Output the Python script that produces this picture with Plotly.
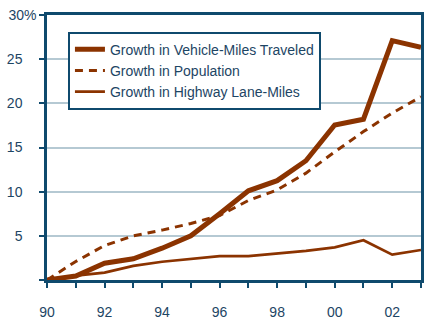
import plotly.graph_objects as go

# Cumulative growth since 1990, percent
years = list(range(1990, 2004))
vmt_growth = [0, 0.45, 1.9, 2.4, 3.6, 5.0, 7.5, 10.1, 11.25, 13.5, 17.55, 18.2, 27.1, 26.35]
population_growth = [0, 2.1, 3.9, 5.0, 5.65, 6.4, 7.3, 9.0, 10.2, 12.1, 14.5, 16.8, 18.9, 20.75]
lane_miles_growth = [0, 0.5, 0.83, 1.6, 2.07, 2.38, 2.7, 2.7, 3.0, 3.3, 3.7, 4.5, 2.87, 3.4]

x_ticktext = ["90", "", "92", "", "94", "", "96", "", "98", "", "00", "", "02", ""]
y_tickvals = [0, 5, 10, 15, 20, 25, 30]
y_ticktext = ["", "5\u2003", "10\u2003", "15\u2003", "20\u2003", "25\u2003", "30%"]

BROWN = "#8B3300"
NAVY = "#0F4A6D"
GRID = "#B5C9D3"
TEXT = "#1D4564"
FONT = "Liberation Sans, Arial, sans-serif"

fig = go.Figure()
fig.add_trace(go.Scatter(
    x=years, y=vmt_growth, mode="lines", name="Growth in Vehicle-Miles Traveled",
    line=dict(color=BROWN, width=5), cliponaxis=False,
))
fig.add_trace(go.Scatter(
    x=years, y=population_growth, mode="lines", name="Growth in Population",
    line=dict(color=BROWN, width=3, dash="8px,6px"), cliponaxis=False,
))
fig.add_trace(go.Scatter(
    x=years, y=lane_miles_growth, mode="lines", name="Growth in Highway Lane-Miles",
    line=dict(color=BROWN, width=2.7), cliponaxis=False,
))

fig.update_layout(
    width=440, height=322,
    margin=dict(l=47, r=19, t=15, b=42),
    paper_bgcolor="white", plot_bgcolor="white",
    font=dict(family=FONT, size=14, color=TEXT),
    legend=dict(
        x=0.056, y=0.937, xanchor="left", yanchor="top",
        bgcolor="white", bordercolor=NAVY, borderwidth=2,
        font=dict(family=FONT, size=14, color=TEXT),
        traceorder="normal",
    ),
    showlegend=True,
)
fig.update_xaxes(
    range=[1990, 2003], tickvals=years, ticktext=x_ticktext,
    showgrid=False, zeroline=False, automargin=False,
    showline=True, mirror=True, linecolor=NAVY, linewidth=2.5,
    ticks="outside", ticklen=5, tickwidth=2, tickcolor=NAVY,
    ticklabelstandoff=12,
)
fig.update_yaxes(
    range=[0, 30], tickvals=y_tickvals, ticktext=y_ticktext,
    showgrid=True, gridcolor=GRID, gridwidth=2, zeroline=False, automargin=False,
    showline=True, mirror=True, linecolor=NAVY, linewidth=2.5,
    ticks="outside", ticklen=5, tickwidth=2, tickcolor=NAVY,
)

fig.write_html("out.html")
